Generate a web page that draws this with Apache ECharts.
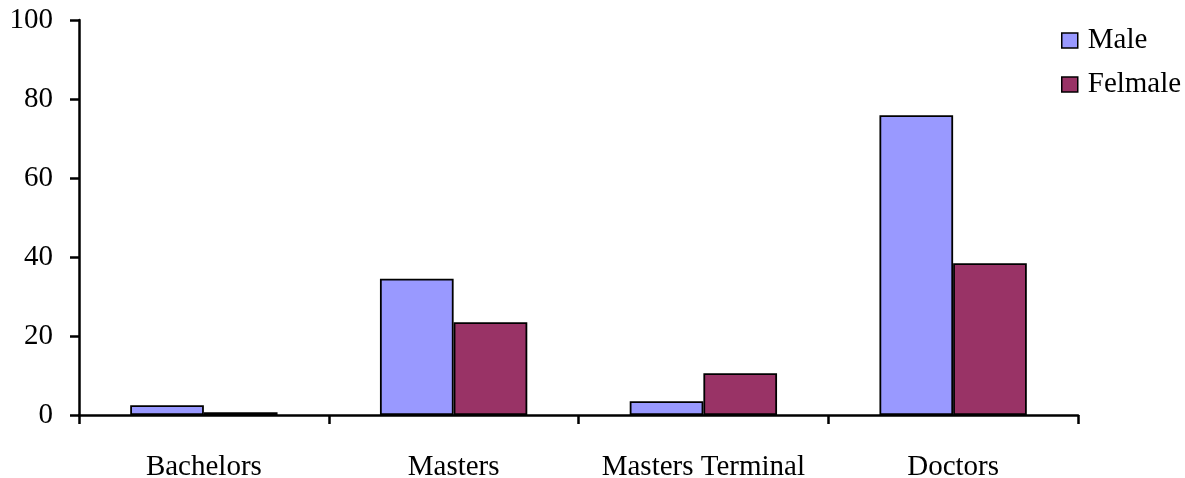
<!DOCTYPE html>
<html><head><meta charset="utf-8">
<script src="https://cdn.jsdelivr.net/npm/echarts@6/dist/echarts.min.js"></script>
<style>html,body{margin:0;padding:0;background:#fff}#c{width:1185px;height:478px}</style>
</head><body><div id="c"></div>
<script>
const categories = ['Bachelors', 'Masters', 'Masters Terminal', 'Doctors'];
const maleValues = [2.5, 34.5, 3.5, 75.9];
const femaleValues = [0.7, 23.5, 10.6, 38.4];
const yTicks = [0, 20, 40, 60, 80, 100];

const font = '"Liberation Serif", "Times New Roman", serif';
const FS = 29;
const chart = echarts.init(document.getElementById('c'), null, {renderer: 'canvas'});
chart.setOption({
  animation: false,
  backgroundColor: '#fff',
  textStyle: {fontFamily: font},
  grid: {left: 79, right: 107, top: 20, bottom: 63, containLabel: false, outerBoundsMode: 'none'},
  legend: {
    orient: 'vertical', left: 1056, top: 21, itemWidth: 16, itemHeight: 15, itemGap: 15,
    icon: 'rect',
    textStyle: {fontFamily: font, fontSize: FS, color: '#000', padding: [0,0,0,5]},
    data: [{name: 'Male', itemStyle: {borderColor: '#000', borderWidth: 1.5}}, {name: 'Felmale', itemStyle: {borderColor: '#000', borderWidth: 1.5}}]
  },
  xAxis: {
    type: 'category', data: categories,
    axisLine: {lineStyle: {color: '#000', width: 2.5}},
    axisTick: {show: true, interval: 0, length: 9, lineStyle: {color: '#000', width: 2.5}, alignWithLabel: false},
    axisLabel: {interval: 0, fontFamily: font, fontSize: FS, color: '#000', margin: 38}
  },
  yAxis: {
    type: 'value', min: 0, max: 100, interval: 20,
    axisLine: {show: true, lineStyle: {color: '#000', width: 2.5}},
    axisTick: {show: true, length: 9, lineStyle: {color: '#000', width: 2.5}},
    splitLine: {show: false},
    axisLabel: {fontFamily: font, fontSize: FS, color: '#000', margin: 26,
      formatter: v => yTicks.includes(v) ? String(v) : ''}
  },
  series: [
    {name: 'Male', type: 'bar', data: maleValues, barGap: '0%', barCategoryGap: '41%',
     itemStyle: {color: '#9999FF', borderColor: '#000', borderWidth: 1.8}},
    {name: 'Felmale', type: 'bar', data: femaleValues, barGap: '0%', barCategoryGap: '41%',
     itemStyle: {color: '#993366', borderColor: '#000', borderWidth: 1.8}}
  ]
});
</script></body></html>
